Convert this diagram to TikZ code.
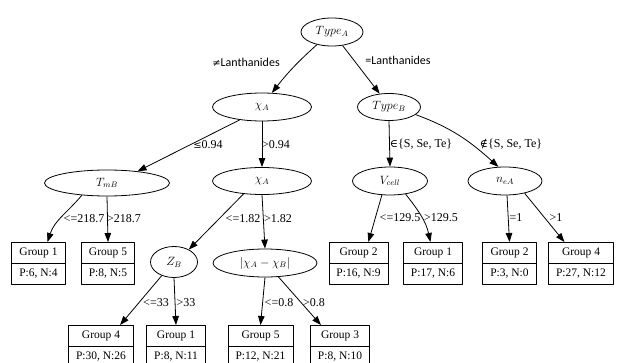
\documentclass[tikz,border=0pt]{standalone}
\usepackage{fontspec}
\setmainfont{Liberation Serif}
\newfontfamily\calibfont{Carlito}
\newfontfamily\symbfont{DejaVu Serif}
\usepackage{tikz}
\usetikzlibrary{arrows.meta,shapes.geometric,shapes.multipart}

\begin{document}
\begin{tikzpicture}[x=1pt,y=1pt,line join=round,line width=0.8pt,
  test/.style={ellipse,draw,inner sep=0pt,minimum height=28pt,font=\fontsize{12}{14}\selectfont},
  leaf/.style={rectangle split,rectangle split parts=2,draw,anchor=north,
    inner xsep=7.5pt,inner ysep=3.5pt,font=\fontsize{11.5}{13}\selectfont},
  cond/.style={inner sep=0pt,font=\fontsize{12}{14}\selectfont},
  edge/.style={-{Triangle[length=9pt,width=6.5pt]}}]
  \useasboundingbox (0,0) rectangle (617,-363);
  % split nodes (pixel grid, y downwards)
  \node[test,minimum width=62pt] (typeA) at (332,-32) {$Type_A$};
  \node[test,minimum width=99pt] (chiA1) at (262,-107) {$\chi_A$};
  \node[test,minimum width=63pt,minimum height=27pt] (typeB) at (389,-107) {$Type_B$};
  \node[test,minimum width=125pt,minimum height=26pt] (tmB) at (107,-183) {$T_{mB}$};
  \node[test,minimum width=99pt,minimum height=27pt] (chiA2) at (262,-181) {$\chi_A$};
  \node[test,minimum width=75pt] (vcell) at (390,-181) {$V_{cell}$};
  \node[test,minimum width=74pt] (neA) at (505,-181) {$n_{eA}$};
  \node[test,minimum width=47pt,minimum height=31pt] (zB) at (174,-262) {$Z_B$};
  \node[test,minimum width=104pt] (dchi) at (265,-263) {$|\chi_A-\chi_B|$};
  % leaves
  \node[leaf] (g1a) at (38.5,-242) {\strut Group 1\nodepart{two}\strut P:6, N:4};
  \node[leaf] (g5a) at (108,-242) {\strut Group 5\nodepart{two}\strut P:8, N:5};
  \node[leaf] (g2a) at (358.5,-242) {\strut Group 2\nodepart{two}\strut P:16, N:9};
  \node[leaf] (g1b) at (433,-242) {\strut Group 1\nodepart{two}\strut P:17, N:6};
  \node[leaf] (g2b) at (509.5,-242) {\strut Group 2\nodepart{two}\strut P:3, N:0};
  \node[leaf] (g4a) at (581,-242) {\strut Group 4\nodepart{two}\strut P:27, N:12};
  \node[leaf] (g4b) at (101,-325) {\strut Group 4\nodepart{two}\strut P:30, N:26};
  \node[leaf] (g1c) at (176,-325) {\strut Group 1\nodepart{two}\strut P:8, N:11};
  \node[leaf] (g5b) at (260.5,-325) {\strut Group 5\nodepart{two}\strut P:12, N:21};
  \node[leaf] (g3a) at (340,-325) {\strut Group 3\nodepart{two}\strut P:8, N:10};
  % branches
  \draw[edge] (typeA.220) to[bend right=5] (chiA1.55);
  \draw[edge] (typeA.308) -- (typeB.125);
  \draw[edge] (chiA1.210) -- (tmB.21);
  \draw[edge] (chiA1.south) -- (chiA2.north);
  \draw[edge] (typeB.south) -- (vcell.north);
  \draw[edge] (typeB.344) to[out=-20,in=138] (neA.115);
  \draw[edge] (tmB.206) to[out=230,in=72] (g1a.67);
  \draw[edge] (tmB.south) -- (g5a.north);
  \draw[edge] (chiA2.215) -- (zB.40);
  \draw[edge] (chiA2.south) -- (dchi.north);
  \draw[edge] (vcell.240) -- (g2a.65);
  \draw[edge] (vcell.320) to[out=-52,in=102] (g1b.97);
  \draw[edge] (neA.-82) -- (g2b.north);
  \draw[edge] (neA.328) -- (g4a.128);
  \draw[edge] (zB.228) -- (g4b.48);
  \draw[edge] (zB.south) -- (g1c.north);
  \draw[edge] (dchi.south) -- (g5b.north);
  \draw[edge] (dchi.314) -- (g3a.132);
  % conditions
  \node[cond,font=\calibfont\fontsize{12}{14}\selectfont] (cNe) at (246,-62) {{\symbfont\fontsize{10}{12}\selectfont ≠}Lanthanides};
  \node[cond,font=\calibfont\fontsize{12}{14}\selectfont] (cEq) at (398,-60) {=Lanthanides};
  \node[cond] (cLe1) at (208,-145) {{\symbfont\fontsize{10}{12}\selectfont ≤}0.94};
  \node[cond] (cGt1) at (276,-145) {>0.94};
  \node[cond] (cLe2) at (84,-219) {<=218.7};
  \node[cond] (cGt2) at (124,-219) {>218.7};
  \node[cond] (cLe3) at (243,-219) {<=1.82};
  \node[cond] (cGt3) at (278,-219) {>1.82};
  \node[cond] (cIn) at (421,-144) {{\symbfont\fontsize{11}{13}\selectfont ∈}\{S, Se, Te\}};
  \node[cond] (cNin) at (511,-144) {{\symbfont\fontsize{11}{13}\selectfont ∉}\{S, Se, Te\}};
  \node[cond] (cLe4) at (400,-218) {<=129.5};
  \node[cond] (cGt4) at (441,-218) {>129.5};
  \node[cond] (cEq1) at (516,-218) {=1};
  \node[cond] (cGt5) at (556,-218) {>1};
  \node[cond] (cLe5) at (156,-303) {<=33};
  \node[cond] (cGt6) at (186,-303) {>33};
  \node[cond] (cLe6) at (279,-303) {<=0.8};
  \node[cond] (cGt7) at (314,-303) {>0.8};
\end{tikzpicture}
\end{document}
